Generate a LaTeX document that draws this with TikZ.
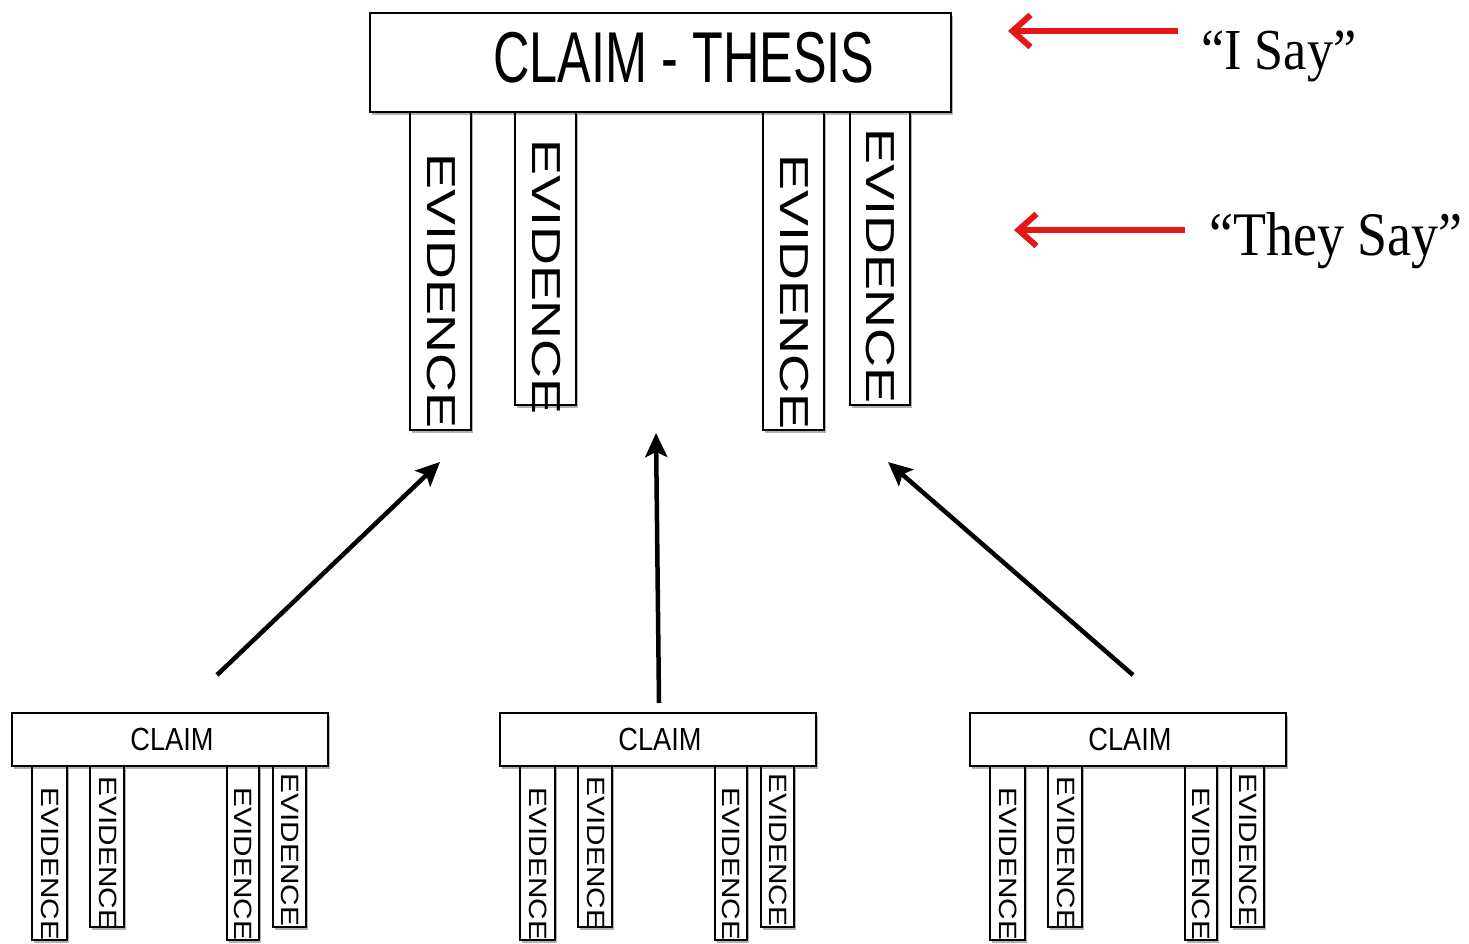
\documentclass[tikz,border=0pt]{standalone}
\usepackage{fontspec}
\usepackage{graphicx}
\setmainfont{Liberation Serif}
\newfontfamily\arialf{Liberation Sans}
\usetikzlibrary{arrows.meta,shadows}
\definecolor{arrred}{RGB}{228,22,22}
\begin{document}
\begin{tikzpicture}[x=1pt,y=-1pt,
  shad/.style={drop shadow={shadow xshift=1.5pt,shadow yshift=-3pt,opacity=0.3,fill=black}},
  bigbox/.style={draw,rectangle,line width=2.2pt,fill=white,inner sep=0pt,shad},
  smallbox/.style={draw,rectangle,line width=1.3pt,fill=white,inner sep=0pt,shad},
  bigtext/.style={inner sep=0pt,font=\arialf\fontsize{72}{80}\selectfont},
  smalltext/.style={inner sep=0pt,font=\arialf\fontsize{32}{36}\selectfont},
  bigev/.style={inner sep=0pt,rotate=-90,font=\arialf\fontsize{40.5}{44}\selectfont},
  smallev/.style={inner sep=0pt,rotate=-90,font=\arialf\fontsize{25}{28}\selectfont},
  saytext/.style={inner sep=0pt,anchor=base west},
  blackarrow/.style={line width=4.5pt,-{Stealth[length=24pt,width=22pt,inset=5pt]}},
  redarrow/.style={line width=6pt,arrred,-{Straight Barb[length=18pt,width=32pt,line width=6pt]}}
]
\useasboundingbox (0,0) rectangle (1469,944);
\fill[white] (0,0) rectangle (1469,944);

% ---- top pillars ----
\node[bigbox,minimum width=61pt,minimum height=318pt] (te1) at (440.5,271) {};
\node[bigbox,minimum width=61pt,minimum height=293pt] (te2) at (545.5,258.5) {};
\node[bigbox,minimum width=61pt,minimum height=318pt] (te3) at (793.5,271) {};
\node[bigbox,minimum width=60pt,minimum height=293pt] (te4) at (880,258.5) {};
\node[bigev] (te1t) at (441.5,291) {\scalebox{1.33}[1]{EVIDENCE}};
\node[bigev] (te2t) at (546.5,277) {\scalebox{1.33}[1]{EVIDENCE}};
\node[bigev] (te3t) at (794.5,292) {\scalebox{1.33}[1]{EVIDENCE}};
\node[bigev] (te4t) at (880.5,266) {\scalebox{1.33}[1]{EVIDENCE}};

% ---- thesis box ----
\node[bigbox,minimum width=581pt,minimum height=99pt] (thesis) at (660.5,62.5) {};
\node[bigtext] (thesist) at (684,58) {\scalebox{0.70}[1]{CLAIM - THESIS}};

% ---- bottom units ----
\newcommand\smallunit[2]{%
  \begin{scope}[shift={(#2,0)}]
    \node[smallbox,minimum width=35pt,minimum height=174pt] (#1e1) at (37.5,853) {};
    \node[smallbox,minimum width=34pt,minimum height=161pt] (#1e2) at (95,846.5) {};
    \node[smallbox,minimum width=32pt,minimum height=174pt] (#1e3) at (231,853) {};
    \node[smallbox,minimum width=33pt,minimum height=161pt] (#1e4) at (277.5,846.5) {};
    \node[smallev] (#1e1t) at (38.5,864) {\scalebox{1.19}[1]{EVIDENCE}};
    \node[smallev] (#1e2t) at (96,853) {\scalebox{1.19}[1]{EVIDENCE}};
    \node[smallev] (#1e3t) at (231.5,864) {\scalebox{1.19}[1]{EVIDENCE}};
    \node[smallev] (#1e4t) at (278,850) {\scalebox{1.19}[1]{EVIDENCE}};
    \node[smallbox,minimum width=316pt,minimum height=53pt] (#1) at (158,739.5) {};
    \node[smalltext] (#1t) at (160,739) {\scalebox{0.85}[1]{CLAIM}};
  \end{scope}}
\smallunit{ca}{12}
\smallunit{cb}{500}
\smallunit{cc}{970}

% ---- black arrows ----
\coordinate (s1) at (217,675);
\coordinate (e1) at (440,462);
\coordinate (s2) at (659,703);
\coordinate (e2) at (656,433);
\coordinate (s3) at (1133,675);
\coordinate (e3) at (888,462);
\draw[blackarrow] (s1) -- (e1);
\draw[blackarrow] (s2) -- (e2);
\draw[blackarrow] (s3) -- (e3);

% ---- labels ----
\node[saytext,font=\fontsize{58}{64}\selectfont] (isay) at (1201,70) {\scalebox{0.90}[1]{“I Say”}};
\node[saytext,font=\fontsize{62}{68}\selectfont] (theysay) at (1209,255) {\scalebox{0.87}[1]{“They Say”}};
\coordinate (r1s) at (1178,31);
\coordinate (r1e) at (1008,31);
\coordinate (r2s) at (1185,230);
\coordinate (r2e) at (1014,230);
\draw[redarrow] (r1s) -- (r1e);
\draw[redarrow] (r2s) -- (r2e);
\end{tikzpicture}
\end{document}
